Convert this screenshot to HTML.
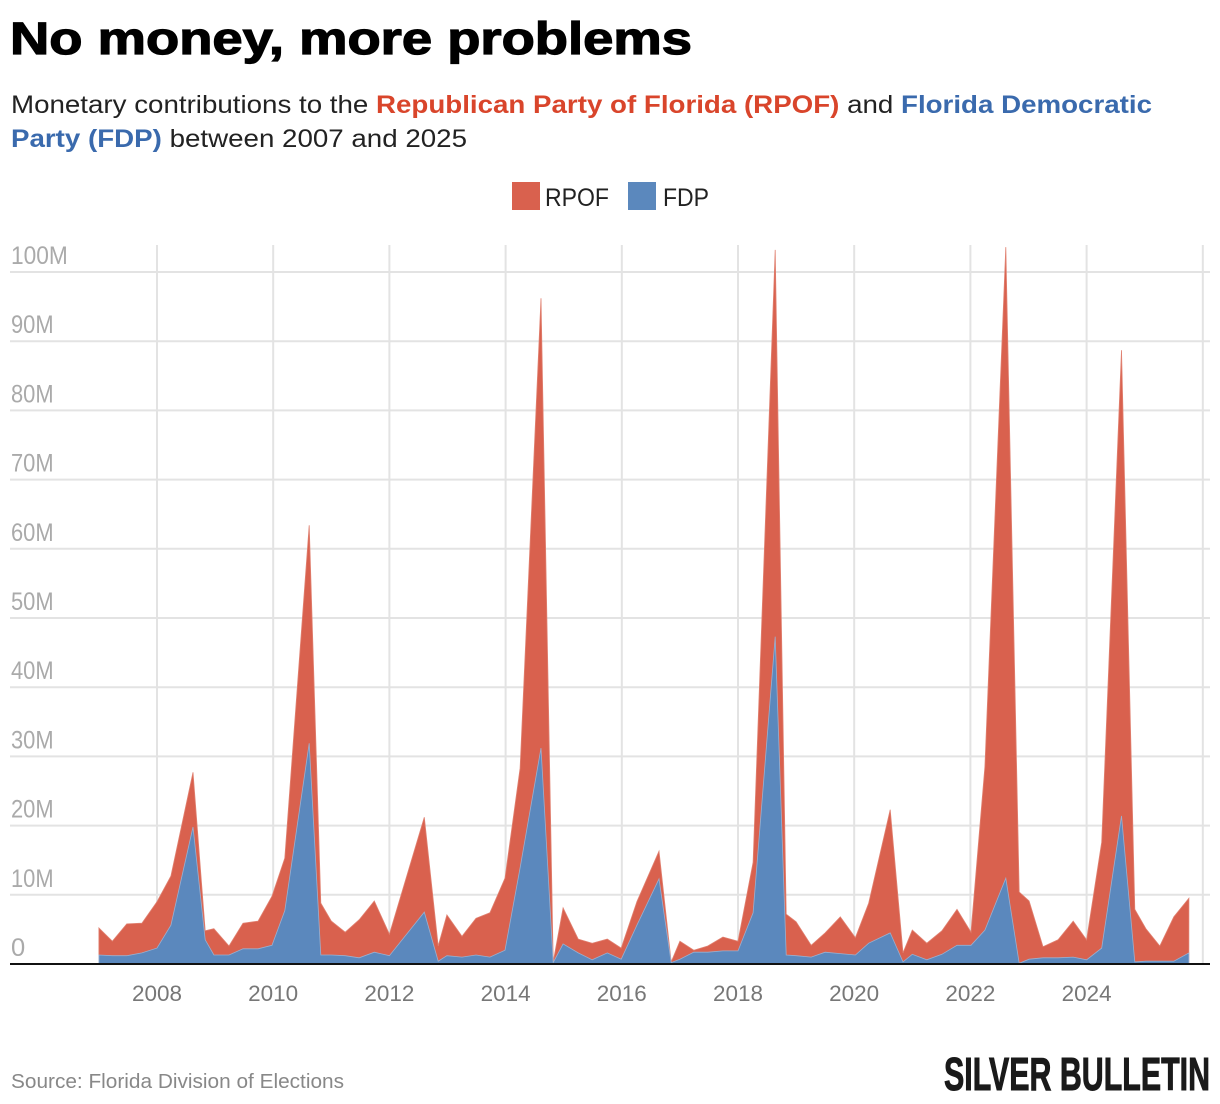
<!DOCTYPE html>
<html><head><meta charset="utf-8"><style>
html,body{margin:0;padding:0;background:#fff;}
svg{display:block;font-family:"Liberation Sans",sans-serif;}
</style></head><body>
<svg id="chart" width="1220" height="1104" viewBox="0 0 1220 1104">
<text x="10" y="54" font-size="45" font-weight="900" fill="#000" textLength="682" lengthAdjust="spacingAndGlyphs" stroke="#000" stroke-width="1.2">No money, more problems</text>
<text x="11" y="113" font-size="25" fill="#222" textLength="1141" lengthAdjust="spacingAndGlyphs">Monetary contributions to the <tspan fill="#d9452b" font-weight="bold">Republican Party of Florida (RPOF)</tspan> and <tspan fill="#3a6aad" font-weight="bold">Florida Democratic</tspan></text>
<text x="11" y="147" font-size="25" fill="#222" textLength="456" lengthAdjust="spacingAndGlyphs"><tspan fill="#3a6aad" font-weight="bold">Party (FDP)</tspan> between 2007 and 2025</text>
<g>
<rect x="512" y="182" width="28" height="28" fill="#d9614e"/>
<text x="545" y="206" font-size="25" fill="#222" textLength="64" lengthAdjust="spacingAndGlyphs">RPOF</text>
<rect x="628" y="182" width="28" height="28" fill="#5b88bd"/>
<text x="663" y="206" font-size="25" fill="#222" textLength="46" lengthAdjust="spacingAndGlyphs">FDP</text>
</g>
<g id="grid"></g>
<g id="areas"></g>
<g id="axes"></g>
<text x="11" y="1088" font-size="20" fill="#888" textLength="333" lengthAdjust="spacingAndGlyphs">Source: Florida Division of Elections</text>
<text x="944" y="1090" font-size="46" font-weight="900" fill="#1a1a1a" textLength="266" lengthAdjust="spacingAndGlyphs" stroke="#1a1a1a" stroke-width="1">SILVER BULLETIN</text>
</svg>
<script>
const dates = [2007.0,2007.23,2007.48,2007.74,2008.0,2008.24,2008.62,2008.83,2008.98,2009.24,2009.48,2009.74,2009.98,2010.2,2010.62,2010.82,2011.0,2011.24,2011.48,2011.74,2012.0,2012.6,2012.84,2012.99,2013.25,2013.49,2013.73,2013.99,2014.25,2014.61,2014.82,2014.99,2015.25,2015.49,2015.75,2015.99,2016.26,2016.64,2016.85,2017.0,2017.24,2017.48,2017.74,2018.0,2018.26,2018.64,2018.83,2019.0,2019.26,2019.5,2019.76,2020.02,2020.25,2020.62,2020.84,2021.0,2021.25,2021.51,2021.77,2022.01,2022.25,2022.61,2022.84,2023.01,2023.25,2023.51,2023.77,2024.0,2024.26,2024.6,2024.83,2025.02,2025.26,2025.5,2025.76];
const rpof = [5.2,3.3,5.8,5.9,9.0,12.7,27.7,4.8,5.1,2.6,5.9,6.2,9.8,15.3,63.4,8.8,6.2,4.6,6.4,9.1,4.3,21.2,2.6,7.1,4.0,6.6,7.4,12.4,28.3,96.2,0.3,8.1,3.6,3.0,3.6,2.3,9.0,16.3,0.3,3.3,2.0,2.6,3.9,3.3,14.7,103.2,7.2,6.1,2.7,4.5,6.8,3.8,8.8,22.3,1.6,4.9,3.0,4.8,7.9,4.6,28.5,103.6,10.4,9.1,2.5,3.5,6.2,3.5,17.6,88.7,7.9,5.1,2.6,6.8,9.5];
const fdp = [1.3,1.2,1.2,1.6,2.3,5.6,19.8,3.5,1.3,1.3,2.2,2.2,2.7,7.7,31.9,1.3,1.3,1.2,0.9,1.7,1.2,7.5,0.4,1.2,1.0,1.3,1.0,2.0,13.9,31.2,0.2,2.9,1.6,0.6,1.6,0.7,5.6,12.3,0.2,0.7,1.7,1.7,1.9,1.9,7.4,47.3,1.3,1.2,1.0,1.7,1.5,1.3,3.0,4.5,0.3,1.4,0.6,1.4,2.7,2.7,4.9,12.4,0.1,0.7,0.9,0.9,1.0,0.6,2.3,21.4,0.3,0.4,0.4,0.4,1.6];
const yTicks = [0,10,20,30,40,50,60,70,80,90,100];
const yTickLabels = ["0","10M","20M","30M","40M","50M","60M","70M","80M","90M","100M"];
const xTicks = [2008,2010,2012,2014,2016,2018,2020,2022,2024];
const xTickLabels = ["2008","2010","2012","2014","2016","2018","2020","2022","2024"];

const NS = "http://www.w3.org/2000/svg";
const X = yr => 157 + (yr - 2008) * 58.1;
const Y = v => 964 - v * 6.92;
function mk(tag, attrs, parent){ const e=document.createElementNS(NS,tag); for(const k in attrs) e.setAttribute(k,attrs[k]); parent.appendChild(e); return e; }
const grid=document.getElementById('grid'), areas=document.getElementById('areas'), axes=document.getElementById('axes');

yTicks.forEach((t,i)=>{
  if(t>0){
    const l=mk('line',{x1:10,x2:1210,y1:Y(t),y2:Y(t),stroke:'#e3e3e3','stroke-width':2},grid);
    
    
  }
  const tx=mk('text',{x:11,y:Y(t)-8,'font-size':25,fill:'#aaa',textLength:yTickLabels[i].length*14.2,lengthAdjust:'spacingAndGlyphs'},axes);
  tx.textContent=yTickLabels[i];
  
  
});
xTicks.concat([2026]).forEach(t=>{
  const l=mk('line',{x1:X(t),x2:X(t),y1:245,y2:964,stroke:'#e3e3e3','stroke-width':2},grid);
  
  
});
xTicks.forEach((t,i)=>{
  const tx=mk('text',{x:X(t),y:1001,'font-size':22,fill:'#777','text-anchor':'middle',textLength:50,lengthAdjust:'spacingAndGlyphs'},axes);
  tx.textContent=xTickLabels[i];
  
  
});
function areaPath(vals){
  let d='M'+X(dates[0])+','+Y(0);
  vals.forEach((v,i)=>{ d+='L'+X(dates[i]).toFixed(1)+','+Y(v).toFixed(1); });
  d+='L'+X(dates[dates.length-1])+','+Y(0)+'Z';
  return d;
}
const ra=mk('path',{d:areaPath(rpof),fill:'#d9614e',stroke:'#e08070','stroke-width':0.8},areas);


const ba=mk('path',{d:areaPath(fdp),fill:'#5b88bd',stroke:'#9ab0d0','stroke-width':0.8},areas);


const base=mk('line',{x1:10,x2:1210,y1:964,y2:964,stroke:'#111','stroke-width':2},axes);


</script>
</body></html>
